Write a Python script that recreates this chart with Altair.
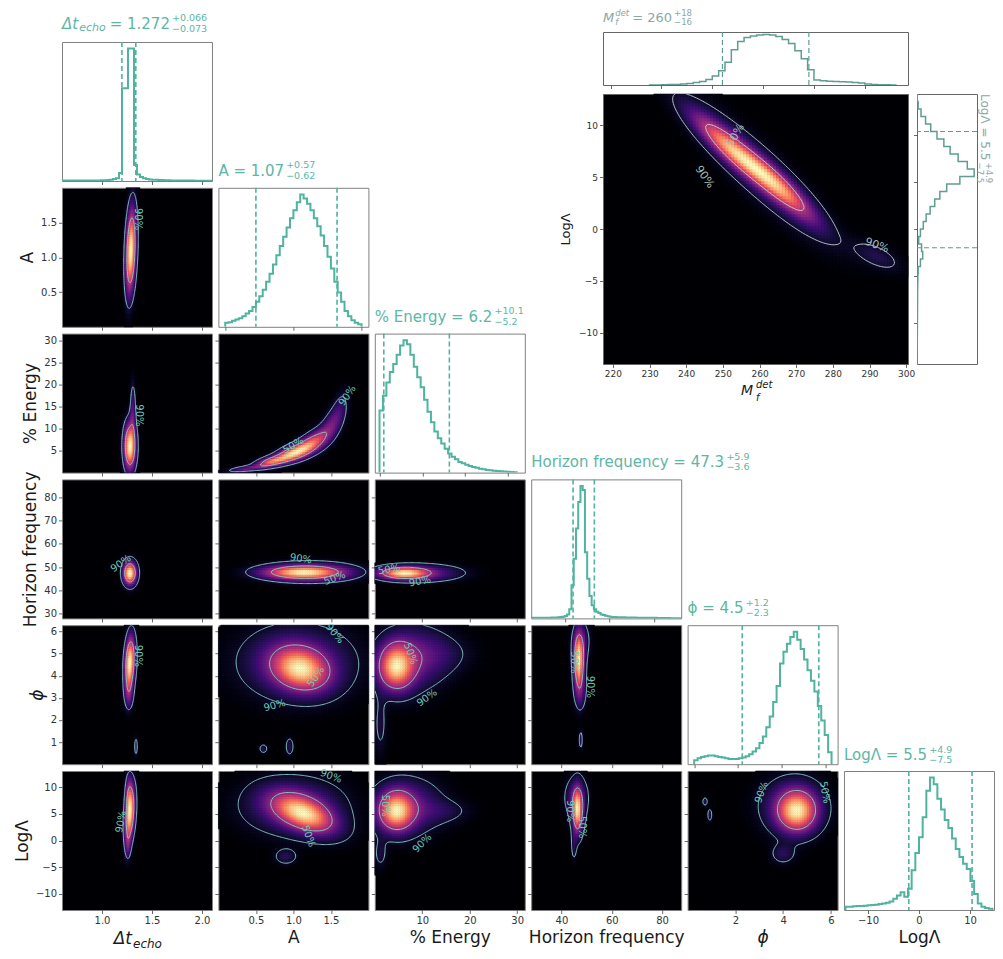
import numpy as np
import pandas as pd
import altair as alt

alt.data_transformers.disable_max_rows()

FONT = "DejaVu Sans"

# ---------------------------------------------------------------- texts
AXIS_TITLES = ["Δt", "A", "% Energy", "Horizon frequency", "ϕ", "LogΛ"]
ITALIC_TITLES = ["ϕ"]
TITLE_DT = ["Δt", "echo", "= 1.272", "+0.066", "−0.073"]
TITLE_A = ["A = 1.07", "+0.57", "−0.62"]
TITLE_E = ["% Energy = 6.2", "+10.1", "−5.2"]
TITLE_HF = ["Horizon frequency = 47.3", "+5.9", "−3.6"]
TITLE_PHI = ["ϕ = 4.5", "+1.2", "−2.3"]
TITLE_L = ["LogΛ = 5.5", "+4.9", "−7.5"]
TITLE_INSET_M = ["M", "f", "det", "= 260", "+18", "−16"]
TITLE_INSET_L = ["LogΛ = 5.5", "+4.9", "−7.5"]

# ---------------------------------------------------------------- ranges / ticks of the 2-D panels
RANGE_DT = [0.6, 2.1]
RANGE_A = [0.0, 2.0]
RANGE_E = [0.0, 31.6]
RANGE_HF = [28.0, 87.6]
RANGE_PHI = [0.0, 6.283]
RANGE_L = [-13.0, 13.0]

TICKS_DT = [1.0, 1.5, 2.0]
TICKS_A = [0.5, 1.0, 1.5]
TICKS_E_X = [10, 20, 30]
TICKS_E_Y = [5, 10, 15, 20, 25, 30]
TICKS_HF_X = [40, 60, 80]
TICKS_HF_Y = [30, 40, 50, 60, 70, 80]
TICKS_PHI_X = [2, 4, 6]
TICKS_PHI_Y = [1, 2, 3, 4, 5, 6]
TICKS_L_Y = [-10, -5, 0, 5, 10]

# ---------------------------------------------------------------- diagonal histograms (peak = 1)
HIST_RANGE_DT = [0.6, 2.1]
HIST_TICKS_DT = [1.0, 1.5, 2.0]
HIST_START_DT, HIST_WIDTH_DT = 0.6, 0.03
HIST_DT = [0.003, 0.003, 0.003, 0.003, 0.003, 0.003, 0.003, 0.003, 0.003, 0.003, 0.003, 0.003, 0.003,
           0.005, 0.006, 0.008, 0.010, 0.015, 0.020, 0.060,
           0.700, 0.700, 1.000, 1.000,
           0.120, 0.050, 0.030, 0.020, 0.015, 0.012, 0.010, 0.009, 0.008, 0.007, 0.006, 0.005,
           0.004, 0.004, 0.004, 0.003, 0.003, 0.003, 0.003, 0.003, 0.002, 0.002, 0.002, 0.002, 0.002, 0.002]
Q_DT = [1.199, 1.338]

HIST_RANGE_A = [-0.1, 2.1]
HIST_TICKS_A = [0, 1, 2]
HIST_START_A, HIST_WIDTH_A = 0.0, 0.05
HIST_A = [0.03, 0.035, 0.045, 0.055, 0.065, 0.08, 0.10, 0.12, 0.15, 0.19, 0.23, 0.28, 0.34, 0.40,
          0.47, 0.54, 0.61, 0.68, 0.75, 0.82, 0.88, 0.94, 1.00, 0.97, 0.93, 0.88, 0.82, 0.76,
          0.69, 0.61, 0.53, 0.44, 0.34, 0.26, 0.19, 0.12, 0.08, 0.05, 0.03, 0.02]
Q_A = [0.45, 1.64]

HIST_RANGE_E = [-1.1, 33.9]
HIST_TICKS_E = [0, 10, 20, 30]
HIST_START_E, HIST_WIDTH_E = 0.0, 0.8
HIST_E = [0.47, 0.58, 0.68, 0.76, 0.82, 0.89, 0.96, 1.00, 0.97, 0.89, 0.80, 0.72, 0.645, 0.55,
          0.46, 0.38, 0.31, 0.26, 0.22, 0.18, 0.145, 0.12, 0.10, 0.08, 0.07, 0.06, 0.05, 0.043,
          0.036, 0.03, 0.025, 0.02, 0.017, 0.014, 0.012, 0.01, 0.008, 0.006, 0.004, 0.003]
Q_E = [1.0, 16.3]

HIST_RANGE_HF = [25.0, 92.0]
HIST_TICKS_HF = [40, 60, 80]
HIST_START_HF, HIST_WIDTH_HF = 25.0, 1.0
HIST_HF = [0.004, 0.004, 0.004, 0.004, 0.004, 0.004, 0.005, 0.005, 0.005, 0.006, 0.006, 0.007, 0.008,
           0.010, 0.012, 0.018, 0.030, 0.070, 0.250, 0.450, 0.680, 0.880, 1.000, 0.970, 0.500, 0.300,
           0.170, 0.100, 0.070, 0.050, 0.040, 0.030, 0.025, 0.020, 0.016, 0.013, 0.011, 0.010,
           0.009, 0.009, 0.008, 0.008, 0.007, 0.007, 0.006, 0.006, 0.006, 0.005, 0.005, 0.005, 0.005,
           0.004, 0.004, 0.004, 0.004, 0.004, 0.003, 0.003, 0.003, 0.003, 0.003, 0.003, 0.002, 0.002,
           0.002, 0.002, 0.002]
Q_HF = [43.7, 53.2]

HIST_RANGE_PHI = [-0.3, 6.56]
HIST_TICKS_PHI = [0, 2, 4, 6]
HIST_START_PHI, HIST_WIDTH_PHI = 0.0, 0.15708
HIST_PHI = [0.03, 0.045, 0.055, 0.06, 0.065, 0.065, 0.06, 0.055, 0.05, 0.045, 0.04, 0.04, 0.04, 0.045,
            0.05, 0.06, 0.075, 0.095, 0.12, 0.16, 0.21, 0.28, 0.36, 0.47, 0.59, 0.76, 0.85, 0.91,
            0.96, 1.0, 0.94, 0.87, 0.79, 0.71, 0.63, 0.55, 0.44, 0.33, 0.22, 0.09]
Q_PHI = [2.2, 5.7]

HIST_RANGE_L = [-14.7, 14.7]
HIST_TICKS_L = [-10, 0, 10]
HIST_START_L, HIST_WIDTH_L = -14.4, 0.72
HIST_L = [0.025, 0.025, 0.028, 0.03, 0.03, 0.032, 0.035, 0.038, 0.04, 0.045, 0.05, 0.055, 0.065, 0.085,
          0.11, 0.135, 0.10, 0.16, 0.30, 0.43, 0.55, 0.70, 0.90, 1.0, 0.95, 0.84, 0.76, 0.68,
          0.62, 0.54, 0.46, 0.40, 0.35, 0.31, 0.22, 0.12, 0.05, 0.025, 0.015, 0.01]
Q_L = [-2.0, 10.4]

# ---------------------------------------------------------------- inset (M_f^det vs LogΛ)
INSET_RANGE_M = [217.3, 300.5]
INSET_RANGE_L = [-13.0, 13.0]
INSET_TICKS_M = [220, 230, 240, 250, 260, 270, 280, 290, 300]
INSET_TICKS_L = [-10, -5, 0, 5, 10]
INSET_TOP_RANGE = [197.0, 317.0]
INSET_TOP_TICKS = [200, 220, 240, 260, 280, 300]
INSET_TOP_START, INSET_TOP_WIDTH = 215.0, 2.5
INSET_TOP_HIST = [0.0, 0.002, 0.005, 0.008, 0.012, 0.02, 0.03, 0.05, 0.07, 0.11, 0.18, 0.28, 0.45,
                  0.70, 0.86, 0.94, 0.97, 0.99, 1.0, 0.99, 0.96, 0.90, 0.82, 0.68, 0.52, 0.30, 0.10,
                  0.085, 0.075, 0.07, 0.065, 0.06, 0.05, 0.04, 0.02, 0.01, 0.005, 0.003, 0.0]
INSET_TOP_Q = [244.0, 278.0]
INSET_RIGHT_RANGE = [-14.4, 14.4]
INSET_RIGHT_TICKS = [-10, -5, 0, 5, 10]
INSET_RIGHT_START, INSET_RIGHT_WIDTH = -14.4, 0.8
INSET_RIGHT_HIST = [0.0, 0.0, 0.003, 0.005, 0.006, 0.007, 0.008, 0.009, 0.01, 0.01, 0.012, 0.015,
                    0.02, 0.06, 0.10, 0.08, 0.03, 0.06, 0.11, 0.16, 0.23, 0.31, 0.40, 0.52, 0.75,
                    1.0, 0.88, 0.72, 0.58, 0.47, 0.35, 0.24, 0.15, 0.07, 0.02, 0.005]
INSET_RIGHT_Q = [-2.0, 10.4]

# ---------------------------------------------------------------- 2-D density blobs
# (centre x, centre y, spread x, spread y, correlation, peak weight)
BLOBS_A_DT = [(1.29, 1.10, 0.035, 0.40, 0.25, 1.0)]
BLOBS_E_DT = [(1.28, 6.0, 0.040, 3.5, 0.0, 1.0), (1.31, 14.0, 0.020, 4.5, 0.0, 0.25)]
BLOBS_HF_DT = [(1.28, 47.5, 0.045, 3.3, 0.0, 1.0)]
BLOBS_PHI_DT = [(1.28, 4.6, 0.035, 0.80, 0.2, 1.0), (1.27, 3.2, 0.030, 0.50, 0.0, 0.25),
                (1.34, 0.8, 0.012, 0.30, 0.0, 0.20)]
BLOBS_L_DT = [(1.28, 5.0, 0.035, 3.5, 0.3, 1.0), (1.27, 9.0, 0.025, 2.5, 0.0, 0.30),
              (1.26, -1.0, 0.020, 1.8, 0.0, 0.20)]
BLOBS_E_A = [(0.35, 0.9, 0.15, 0.5, 0.6, 0.35), (0.70, 2.5, 0.15, 1.0, 0.6, 0.75),
             (1.00, 4.5, 0.16, 1.5, 0.6, 1.0), (1.25, 6.8, 0.14, 2.0, 0.6, 0.7),
             (1.50, 10.5, 0.12, 3.0, 0.6, 0.35), (1.62, 15.0, 0.08, 3.0, 0.5, 0.15)]
BLOBS_HF_A = [(1.12, 47.8, 0.36, 2.1, 0.0, 1.0), (1.30, 48.0, 0.40, 3.0, 0.0, 0.25)]
BLOBS_PHI_A = [(1.10, 4.3, 0.25, 0.65, -0.2, 1.0), (1.05, 4.6, 0.50, 1.10, 0.0, 0.40),
               (0.60, 0.7, 0.04, 0.15, 0.0, 0.20), (0.95, 0.8, 0.04, 0.30, 0.0, 0.20)]
BLOBS_L_A = [(1.15, 5.0, 0.28, 2.5, -0.5, 1.0), (1.00, 6.5, 0.45, 3.5, 0.0, 0.35),
             (0.90, -3.0, 0.10, 1.0, 0.0, 0.20)]
BLOBS_HF_E = [(6.0, 47.5, 3.5, 1.8, 0.0, 1.0), (11.0, 47.5, 5.5, 2.5, 0.0, 0.30)]
BLOBS_PHI_E = [(4.5, 4.4, 2.5, 0.7, 0.0, 1.0), (8.0, 4.8, 5.0, 1.0, 0.0, 0.35),
               (14.0, 5.0, 5.0, 0.6, 0.0, 0.12), (1.2, 1.8, 1.0, 1.0, 0.0, 0.15)]
BLOBS_L_E = [(4.5, 5.5, 2.5, 2.5, 0.0, 1.0), (7.0, 6.5, 5.0, 3.5, 0.0, 0.35),
             (15.0, 5.5, 4.0, 1.5, 0.0, 0.12), (1.2, -2.5, 1.0, 2.0, 0.0, 0.15)]
BLOBS_PHI_HF = [(47.0, 4.7, 1.4, 0.8, 0.0, 1.0), (47.5, 3.3, 1.6, 0.6, 0.0, 0.25),
                (48.0, 5.6, 2.5, 0.6, 0.0, 0.20), (47.7, 1.1, 0.5, 0.3, 0.0, 0.20)]
BLOBS_L_HF = [(46.5, 5.5, 1.4, 2.8, 0.0, 1.0), (46.0, 8.0, 3.0, 2.5, 0.0, 0.30),
              (45.0, -1.0, 0.8, 2.0, 0.0, 0.15)]
BLOBS_L_PHI = [(4.6, 5.5, 0.55, 2.6, 0.0, 1.0), (4.4, 6.5, 0.9, 3.5, 0.0, 0.35),
               (4.0, -2.5, 0.35, 1.3, 0.0, 0.20), (0.73, 7.3, 0.08, 0.6, 0.0, 0.20),
               (0.93, 4.8, 0.07, 0.9, 0.0, 0.20)]
BLOBS_INSET = [(252.0, 7.8, 7.0, 2.3, -0.9, 0.9), (265.0, 4.2, 7.0, 2.3, -0.9, 0.9),
               (260.0, 5.5, 12.0, 4.2, -0.9, 0.3), (292.0, -2.6, 4.5, 1.0, -0.6, 0.2)]

CONTOUR_LEVELS = [0.5, 0.9]

# contour labels: (x, y, text, angle)
LABELS_A_DT = [(1.36, 1.55, "90%", 90)]
LABELS_E_DT = [(1.37, 13.0, "90%", 90)]
LABELS_HF_DT = [(1.19, 51.5, "90%", 325)]
LABELS_PHI_DT = [(1.36, 4.9, "90%", 90)]
LABELS_L_DT = [(1.19, 3.5, "90%", 280)]
LABELS_E_A = [(1.72, 17.5, "90%", 305), (1.0, 6.2, "50%", 330)]
LABELS_HF_A = [(1.1, 53.5, "90%", 8), (1.55, 45.2, "50%", 340)]
LABELS_PHI_A = [(1.55, 5.9, "90%", 50), (0.75, 2.65, "90%", 345), (1.3, 3.95, "50%", 305)]
LABELS_L_A = [(1.5, 12.0, "90%", 20), (1.2, 0.8, "50%", 70)]
LABELS_HF_E = [(9.5, 43.8, "90%", 350), (3.0, 49.0, "50%", 350)]
LABELS_PHI_E = [(11.0, 3.0, "90%", 325), (7.5, 5.0, "50%", 70)]
LABELS_L_E = [(10.0, -0.5, "90%", 315), (2.2, 6.5, "50%", 90)]
LABELS_PHI_HF = [(51.5, 3.5, "90%", 90), (45.0, 4.6, "50%", 90)]
LABELS_L_HF = [(43.5, 5.5, "90%", 90), (48.0, 2.5, "50%", 90)]
LABELS_L_PHI = [(3.1, 9.0, "90%", 290), (5.75, 9.0, "50%", 80)]
LABELS_INSET = [(245.0, 5.0, "90%", 55), (292.0, -1.6, "90%", 20), (253.5, 9.0, "50%", 300)]

# ---------------------------------------------------------------- styles
HIST_COLOR = "#4fb39f"
TITLE_COLOR = "#5db6a5"
CONTOUR_COLOR = "#8fd3c6"
LABEL_COLOR = "#6fcab5"
INSET_HIST_COLOR = "#5f9d92"
INSET_TITLE_COLOR = "#8aa8a2"
INSET_CONTOUR_COLOR = "#c4d6d3"
INSET_LABEL_COLOR = "#a6bdb9"
FRAME = "#808080"
PW, PH = 150, 139
HSP, VSP = 6.4, 6.8

CHAR_W = {"A": 0.684, "E": 0.632, "H": 0.752, "L": 0.557, "M": 0.863, "Λ": 0.684, "Δ": 0.684,
          "ϕ": 0.68, "%": 0.95, " ": 0.318, "=": 0.838, ".": 0.318, "o": 0.612, "g": 0.635,
          "r": 0.411, "i": 0.278, "z": 0.525, "n": 0.634, "f": 0.352, "e": 0.615, "q": 0.635,
          "u": 0.634, "c": 0.55, "y": 0.592, "t": 0.392, "h": 0.634, "d": 0.635, "+": 0.838,
          "−": 0.838}


def text_width(s, size):
    return sum(CHAR_W.get(ch, 0.636) for ch in s) * size


# ---------------------------------------------------------------- helpers
def mixture(blobs, X, Y):
    Z = np.zeros_like(X, dtype=float)
    for mx, my, sx, sy, r, w in blobs:
        dx = (X - mx) / sx
        dy = (Y - my) / sy
        q = (dx * dx - 2.0 * r * dx * dy + dy * dy) / (1.0 - r * r)
        Z += w * np.exp(-0.5 * q)
    return Z


def hpd_level(Z, frac):
    z = np.sort(Z.ravel())[::-1]
    c = np.cumsum(z)
    c = c / c[-1]
    k = int(np.searchsorted(c, frac))
    return float(z[min(k, len(z) - 1)])


def contour_segments(xs, ys, Z, level):
    B = (Z > level).astype(np.int8)
    idx = B[:-1, :-1] + 2 * B[:-1, 1:] + 4 * B[1:, 1:] + 8 * B[1:, :-1]
    out = []
    iys, ixs = np.nonzero((idx > 0) & (idx < 15))
    for iy, ix in zip(iys, ixs):
        x0, x1 = xs[ix], xs[ix + 1]
        y0, y1 = ys[iy], ys[iy + 1]
        a, b = Z[iy, ix], Z[iy, ix + 1]
        c, d = Z[iy + 1, ix + 1], Z[iy + 1, ix]
        pts = {}
        if (a > level) != (b > level):
            pts["B"] = (x0 + (level - a) / (b - a) * (x1 - x0), y0)
        if (b > level) != (c > level):
            pts["R"] = (x1, y0 + (level - b) / (c - b) * (y1 - y0))
        if (d > level) != (c > level):
            pts["T"] = (x0 + (level - d) / (c - d) * (x1 - x0), y1)
        if (a > level) != (d > level):
            pts["L"] = (x0, y0 + (level - a) / (d - a) * (y1 - y0))
        if len(pts) == 2:
            p, q = list(pts.values())
            out.append((p[0], p[1], q[0], q[1]))
        elif len(pts) == 4:
            centre = 0.25 * (a + b + c + d) > level
            k = idx[iy, ix]
            if (k == 5) == centre:
                pairs = [("L", "T"), ("B", "R")]
            else:
                pairs = [("L", "B"), ("T", "R")]
            for p1, p2 in pairs:
                p, q = pts[p1], pts[p2]
                out.append((p[0], p[1], q[0], q[1]))
    return out


def density_data(blobs, xr, yr, nx, ny, nfx, nfy):
    xf = np.linspace(xr[0], xr[1], nfx)
    yf = np.linspace(yr[0], yr[1], nfy)
    XF, YF = np.meshgrid(xf, yf)
    ZF = mixture(blobs, XF, YF)
    zmax = ZF.max()
    ZF = ZF / zmax
    segs = []
    for frac in CONTOUR_LEVELS:
        segs += contour_segments(xf, yf, ZF, hpd_level(ZF, frac))
    seg_df = pd.DataFrame(segs, columns=["x", "y", "x2", "y2"]).round(5)
    xe = np.linspace(xr[0], xr[1], nx + 1)
    ye = np.linspace(yr[0], yr[1], ny + 1)
    XC, YC = np.meshgrid(0.5 * (xe[:-1] + xe[1:]), 0.5 * (ye[:-1] + ye[1:]))
    D = mixture(blobs, XC, YC) / zmax
    iy, ix = np.nonzero(D > 0.012)
    cell_df = pd.DataFrame({"x": xe[ix], "x2": xe[ix + 1], "y": ye[iy], "y2": ye[iy + 1],
                            "d": np.clip(D[iy, ix], 0, 1)}).round(5)
    return cell_df, seg_df


def lin(dom):
    return alt.Scale(domain=list(dom), nice=False, zero=False)


def txt(s, x, y, size, color, align="left", italic=False, angle=0, baseline="middle"):
    kw = dict(align=align, baseline=baseline, fontSize=size, font=FONT, color=color)
    if italic:
        kw["fontStyle"] = "italic"
    if angle:
        kw["angle"] = angle
    return alt.Chart(pd.DataFrame({"t": [s]})).mark_text(**kw).encode(
        x=alt.value(x), y=alt.value(y), text="t:N")


def axis(values, labels, title_text="", **kw):
    if title_text in ITALIC_TITLES:
        kw["titleFontStyle"] = "italic"
    return alt.Axis(values=values, labels=labels, labelOverlap=False, labelFlush=False,
                    labelBound=False, **kw)


MAGMA = alt.Scale(scheme="magma", domain=[0, 1])


def density_panel(blobs, labels, xr, yr, xaxis, yaxis, xtitle, ytitle, w, h, nx, ny, nfx, nfy,
                  line_color, label_color, extra=(), frame=FRAME, label_size=10):
    cells, segs = density_data(blobs, xr, yr, nx, ny, nfx, nfy)
    xs, ys = lin(xr), lin(yr)
    heat = alt.Chart(cells).mark_rect(strokeWidth=0.6).encode(
        x=alt.X("x:Q", scale=xs, axis=xaxis, title=xtitle),
        x2="x2:Q",
        y=alt.Y("y:Q", scale=ys, axis=yaxis, title=ytitle),
        y2="y2:Q",
        color=alt.Color("d:Q", scale=MAGMA, legend=None),
        stroke=alt.Stroke("d:Q", scale=MAGMA, legend=None),
    )
    lines = alt.Chart(segs).mark_rule(color=line_color, strokeWidth=0.9, clip=True).encode(
        x=alt.X("x:Q", scale=xs, axis=xaxis, title=xtitle),
        y=alt.Y("y:Q", scale=ys, axis=yaxis, title=ytitle),
        x2="x2:Q", y2="y2:Q")
    lab = pd.DataFrame(labels, columns=["x", "y", "t", "a"])
    texts = alt.Chart(lab).mark_text(color=label_color, fontSize=label_size, font=FONT).encode(
        x=alt.X("x:Q", scale=xs, axis=xaxis, title=xtitle),
        y=alt.Y("y:Q", scale=ys, axis=yaxis, title=ytitle),
        text="t:N", angle=alt.Angle("a:Q", scale=None))
    return alt.layer(heat, lines, texts, *extra).properties(
        width=w, height=h, view=alt.ViewBackground(fill="#000004", stroke=frame))


def step_df(start, width, heights):
    v = [start]
    hh = [0.0]
    for i, hv in enumerate(heights):
        v += [start + i * width, start + (i + 1) * width]
        hh += [hv, hv]
    v.append(start + len(heights) * width)
    hh.append(0.0)
    return pd.DataFrame({"v": np.round(v, 5), "h": hh, "k": np.arange(len(v))})


def hist_panel(start, width, heights, quants, xr, xticks, xlabels, xtitle, titles, w=PW, h=PH,
               color=HIST_COLOR, lw=2.0, dash_w=1.6, frame=FRAME):
    xs = lin(xr)
    xaxis = axis(xticks, xlabels, xtitle)
    line = alt.Chart(step_df(start, width, heights)).mark_line(
        color=color, strokeWidth=lw, clip=True).encode(
        x=alt.X("v:Q", scale=xs, axis=xaxis, title=xtitle),
        y=alt.Y("h:Q", scale=alt.Scale(domain=[0, 1.05], nice=False), axis=None),
        order=alt.Order("k:Q"))
    dash = alt.Chart(pd.DataFrame({"q": quants})).mark_rule(
        color=color, strokeWidth=dash_w, strokeDash=[5, 3]).encode(
        x=alt.X("q:Q", scale=xs, axis=xaxis, title=xtitle))
    return alt.layer(line, dash, *titles).properties(
        width=w, height=h, view=alt.ViewBackground(fill="white", stroke=frame))


def diag_title(parts, y=-17.0, size=15, sub_size=9.5):
    main, sup, sub = parts
    wmain = text_width(main, size)
    return [txt(main, 0, y, size, TITLE_COLOR),
            txt(sup, wmain + 2, y - 5.5, sub_size, TITLE_COLOR),
            txt(sub, wmain + 2, y + 5, sub_size, TITLE_COLOR)]


def dt_title():
    y = -18.5
    d, e, rest, sup, sub = TITLE_DT
    w1 = text_width(d, 15)
    w2 = text_width(e, 11)
    x3 = w1 + 1 + w2 + 4
    w3 = text_width(rest, 15)
    return [txt(d, 0, y, 15, TITLE_COLOR, italic=True),
            txt(e, w1 + 1, y + 4, 11, TITLE_COLOR, italic=True),
            txt(rest, x3, y, 15, TITLE_COLOR),
            txt(sup, x3 + w3 + 2, y - 5.5, 9.5, TITLE_COLOR),
            txt(sub, x3 + w3 + 2, y + 5, 9.5, TITLE_COLOR),
            # white dot on white: fixes the left edge of the figure
            txt(".", -53, PH / 2, 10, "#ffffff")]


# ---------------------------------------------------------------- corner panels
RANGES = [RANGE_DT, RANGE_A, RANGE_E, RANGE_HF, RANGE_PHI, RANGE_L]
XTICKS = [TICKS_DT, TICKS_A, TICKS_E_X, TICKS_HF_X, TICKS_PHI_X, TICKS_L_Y]
YTICKS = [TICKS_DT, TICKS_A, TICKS_E_Y, TICKS_HF_Y, TICKS_PHI_Y, TICKS_L_Y]
BLOBS = {(1, 0): BLOBS_A_DT, (2, 0): BLOBS_E_DT, (3, 0): BLOBS_HF_DT, (4, 0): BLOBS_PHI_DT,
         (5, 0): BLOBS_L_DT, (2, 1): BLOBS_E_A, (3, 1): BLOBS_HF_A, (4, 1): BLOBS_PHI_A,
         (5, 1): BLOBS_L_A, (3, 2): BLOBS_HF_E, (4, 2): BLOBS_PHI_E, (5, 2): BLOBS_L_E,
         (4, 3): BLOBS_PHI_HF, (5, 3): BLOBS_L_HF, (5, 4): BLOBS_L_PHI}
LABELS = {(1, 0): LABELS_A_DT, (2, 0): LABELS_E_DT, (3, 0): LABELS_HF_DT, (4, 0): LABELS_PHI_DT,
          (5, 0): LABELS_L_DT, (2, 1): LABELS_E_A, (3, 1): LABELS_HF_A, (4, 1): LABELS_PHI_A,
          (5, 1): LABELS_L_A, (3, 2): LABELS_HF_E, (4, 2): LABELS_PHI_E, (5, 2): LABELS_L_E,
          (4, 3): LABELS_PHI_HF, (5, 3): LABELS_L_HF, (5, 4): LABELS_L_PHI}


def corner_panel(i, j):
    bottom = i == 5
    left = j == 0
    xtitle = AXIS_TITLES[j] if (bottom and j > 0) else ""
    ytitle = AXIS_TITLES[i] if left else ""
    xaxis = axis(XTICKS[j], bottom, xtitle)
    yaxis = axis(YTICKS[i], left, ytitle)
    extra = ()
    if bottom and left:
        extra = (txt("Δt", 70, PH + 29, 17, "#1a1a1a", align="right", italic=True),
                 txt("echo", 71, PH + 34, 12, "#1a1a1a", italic=True))
    if j == 0:
        nx, nfx = 150, 360
    else:
        nx, nfx = 64, 130
    return density_panel(BLOBS[(i, j)], LABELS[(i, j)], RANGES[j], RANGES[i], xaxis, yaxis,
                         xtitle, ytitle, PW, PH, nx, 60, nfx, 130, CONTOUR_COLOR, LABEL_COLOR,
                         extra=extra)


DIAG = [
    (HIST_START_DT, HIST_WIDTH_DT, HIST_DT, Q_DT, HIST_RANGE_DT, HIST_TICKS_DT, dt_title()),
    (HIST_START_A, HIST_WIDTH_A, HIST_A, Q_A, HIST_RANGE_A, HIST_TICKS_A, diag_title(TITLE_A)),
    (HIST_START_E, HIST_WIDTH_E, HIST_E, Q_E, HIST_RANGE_E, HIST_TICKS_E, diag_title(TITLE_E)),
    (HIST_START_HF, HIST_WIDTH_HF, HIST_HF, Q_HF, HIST_RANGE_HF, HIST_TICKS_HF, diag_title(TITLE_HF)),
    (HIST_START_PHI, HIST_WIDTH_PHI, HIST_PHI, Q_PHI, HIST_RANGE_PHI, HIST_TICKS_PHI,
     diag_title(TITLE_PHI)),
    (HIST_START_L, HIST_WIDTH_L, HIST_L, Q_L, HIST_RANGE_L, HIST_TICKS_L, diag_title(TITLE_L, y=-16)),
]


def diag_panel(i):
    s, w, hts, q, xr, ticks, titles = DIAG[i]
    last = i == 5
    return hist_panel(s, w, hts, q, xr, ticks, last, AXIS_TITLES[5] if last else "", titles)


def blank(w, h):
    return alt.Chart(pd.DataFrame({"s": [0]})).mark_point(opacity=0).encode(
        x=alt.X("s:Q", axis=None), y=alt.Y("s:Q", axis=None)).properties(
        width=w, height=h, view=alt.ViewBackground(stroke="transparent"))


cells = []
for i in range(6):
    for j in range(6):
        if j < i:
            cells.append(corner_panel(i, j))
        elif j == i:
            cells.append(diag_panel(i))
        else:
            cells.append(blank(PW, PH))

corner = alt.concat(*cells, columns=6, spacing={"row": VSP, "column": HSP}, bounds="flush")

# ---------------------------------------------------------------- inset
IW, IH, ITOP, IRW = 305, 270, 53, 60

m, f, det, eq, sup, sub = TITLE_INSET_M
wm = text_width(m, 13)
wdet = text_width(det, 8.5)
xeq = wm + 1 + wdet + 3
weq = text_width(eq, 13)
inset_titles = [txt(m, 0, -14.5, 13, INSET_TITLE_COLOR, italic=True),
                txt(det, wm + 1, -19, 8.5, INSET_TITLE_COLOR, italic=True),
                txt(f, wm + 1, -10, 8.5, INSET_TITLE_COLOR, italic=True),
                txt(eq, xeq, -14.5, 13, INSET_TITLE_COLOR),
                txt(sup, xeq + weq + 2, -19.5, 8.5, INSET_TITLE_COLOR),
                txt(sub, xeq + weq + 2, -10, 8.5, INSET_TITLE_COLOR)]

inset_top = hist_panel(INSET_TOP_START, INSET_TOP_WIDTH, INSET_TOP_HIST, INSET_TOP_Q,
                       INSET_TOP_RANGE, INSET_TOP_TICKS, False, "", inset_titles,
                       w=IW, h=ITOP, color=INSET_HIST_COLOR, lw=1.5, dash_w=1.2, frame="#666666")

inset_main = density_panel(
    BLOBS_INSET, LABELS_INSET, INSET_RANGE_M, INSET_RANGE_L,
    axis(INSET_TICKS_M, True, labelFontSize=9),
    axis(INSET_TICKS_L, True, labelFontSize=9, titleFontSize=13, titlePadding=6),
    "", "LogΛ", IW, IH, 102, 90, 200, 170, INSET_CONTOUR_COLOR, INSET_LABEL_COLOR,
    extra=(txt("M", 150, IH + 27, 14, "#1a1a1a", align="right", italic=True),
           txt("det", 153, IH + 21, 10, "#1a1a1a", italic=True),
           txt("f", 153, IH + 34, 10, "#1a1a1a", italic=True)),
    frame="#666666", label_size=11)

lm, lsup, lsub = TITLE_INSET_L
wl = text_width(lm, 12)
right_titles = [txt(lm, IRW + 8, 0, 12, INSET_TITLE_COLOR, angle=90),
                txt(lsup, IRW + 12, wl + 2, 8.5, INSET_TITLE_COLOR, angle=90),
                txt(lsub, IRW + 3, wl + 2, 8.5, INSET_TITLE_COLOR, angle=90)]

right_axis = axis(INSET_RIGHT_TICKS, False)
right_line = alt.Chart(step_df(INSET_RIGHT_START, INSET_RIGHT_WIDTH, INSET_RIGHT_HIST)).mark_line(
    color=INSET_HIST_COLOR, strokeWidth=1.5, clip=True).encode(
    y=alt.Y("v:Q", scale=lin(INSET_RIGHT_RANGE), axis=right_axis, title=""),
    x=alt.X("h:Q", scale=alt.Scale(domain=[0, 1.05], nice=False), axis=None),
    order=alt.Order("k:Q"))
right_dash = alt.Chart(pd.DataFrame({"q": INSET_RIGHT_Q})).mark_rule(
    color=INSET_HIST_COLOR, strokeWidth=1.2, strokeDash=[5, 3]).encode(
    y=alt.Y("q:Q", scale=lin(INSET_RIGHT_RANGE), axis=right_axis, title=""))
inset_right = alt.layer(right_line, right_dash, *right_titles).properties(
    width=IRW, height=IH, view=alt.ViewBackground(fill="white", stroke="#666666"))

inset = alt.concat(inset_top, blank(IRW, ITOP), inset_main, inset_right, columns=2,
                   spacing={"row": 9, "column": 9}, bounds="flush")

# a nested concat has no size of its own in a "flush" layout, so the spacings below
# set the inset 541 px right of and 10 px above the corner plot
inset_row = alt.hconcat(blank(1, 1), inset, spacing=540, bounds="flush")

chart = alt.vconcat(inset_row, corner, spacing=10, bounds="flush").properties(
    padding={"left": 0, "top": 0, "right": 0, "bottom": 0}
).configure(font=FONT).configure_axis(
    grid=False, domain=False, tickColor="#444444", tickWidth=0.8, tickSize=3.5,
    labelFont=FONT, labelFontSize=10, labelColor="#333333", labelPadding=2,
    titleFont=FONT, titleFontSize=17, titleFontWeight="normal", titleColor="#1a1a1a",
    titlePadding=4,
).configure_view(stroke=FRAME)

chart.save("out.html", embed_options={"renderer": "svg", "actions": False})
